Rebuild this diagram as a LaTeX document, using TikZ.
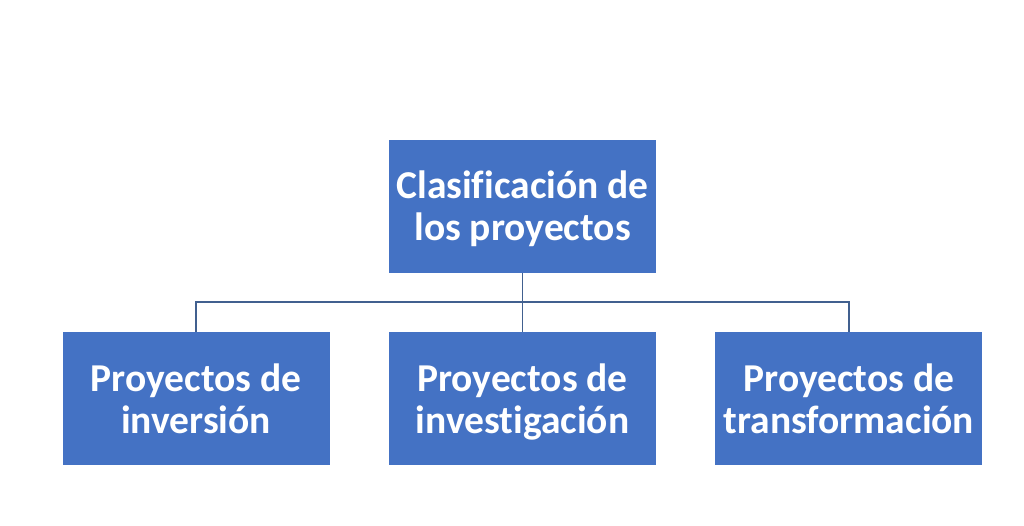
\documentclass[tikz,border=0pt]{standalone}
\usepackage{fontspec}
\setmainfont{Carlito}[Ligatures={NoCommon}]
\usetikzlibrary{positioning}
\definecolor{boxblue}{HTML}{4472C4}
\definecolor{linkblue}{HTML}{41608F}
\newcommand{\topstrut}{\rule{0pt}{37pt}}
\newcommand{\botstrut}{\rule[-10.2pt]{0pt}{10.2pt}}

\begin{document}
\begin{tikzpicture}[
  x=1pt, y=1pt,
  node distance=59pt,
  block/.style={rectangle, fill=boxblue, text=white, font=\bfseries\fontsize{39.5}{42}\selectfont, minimum width=267pt, minimum height=133pt, align=center, inner sep=0pt},
  link/.style={draw=linkblue, line width=1.6pt}
]
  \useasboundingbox (0,0) rectangle (1024,-526);
  \node[block] (clasif) at (522.5,-206.5) {\topstrut Clasificación de\\los proyectos\botstrut};
  \node[block, below=of clasif] (invest) {\topstrut Proyectos de\\investigación\botstrut};
  \node[block, left=of invest] (inver) {\topstrut Proyectos de\\inversión\botstrut};
  \node[block, right=of invest] (transf) {\topstrut Proyectos de\\transformación\botstrut};

  \draw[link] (clasif) -- (invest);
  \draw[link] (inver.north) -- ++(0,30) -| (transf.north);
\end{tikzpicture}
\end{document}
